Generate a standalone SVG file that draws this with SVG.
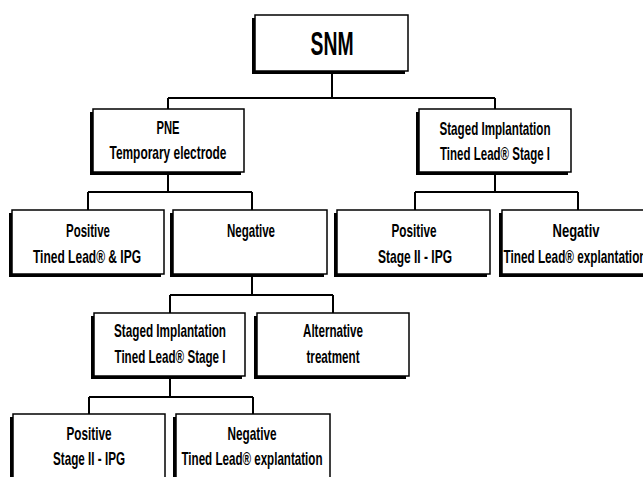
<svg xmlns="http://www.w3.org/2000/svg" width="643" height="477" viewBox="0 0 643 477">
<style>
.sh{fill:#000}
.bx{fill:#fff;stroke:#000;stroke-width:1.5}
.t{font-family:"Liberation Sans Narrow","Liberation Sans",Arial,sans-serif;font-weight:bold;font-size:19px;text-anchor:middle;fill:#000}
.big{font-size:34px}
.c{fill:none;stroke:#000;stroke-width:2}
</style>
<rect width="643" height="477" fill="#fff"/>
<g id="connectors">
<path class="c" d="M332 71V98M168 98H495M168 98V109M495 98V109"/>
<path class="c" d="M168 172V192M88 192H252M88 192V210M252 192V210"/>
<path class="c" d="M495 172V192M415 192H578M415 192V210M578 192V210"/>
<path class="c" d="M252 274V295M170 295H333M170 295V313M333 295V313"/>
<path class="c" d="M170 376V397M89 397H253M89 397V414M253 397V414"/>
</g>
<g id="snm">
<rect class="sh" x="252" y="18" width="153" height="56"/>
<rect class="bx" x="255" y="15" width="153" height="56" stroke-width="2"/>
<text class="t big" x="332" y="55" textLength="43" lengthAdjust="spacingAndGlyphs">SNM</text>
</g>
<g id="pne">
<rect class="sh" x="90" y="112" width="151" height="63"/>
<rect class="bx" x="93" y="109" width="151" height="63"/>
<text class="t" x="168" y="134" textLength="23" lengthAdjust="spacingAndGlyphs">PNE</text>
<text class="t" x="168" y="159" textLength="117" lengthAdjust="spacingAndGlyphs">Temporary electrode</text>
</g>
<g id="staged-right">
<rect class="sh" x="416" y="112" width="152" height="63"/>
<rect class="bx" x="419" y="109" width="152" height="63"/>
<text class="t" x="495" y="135" textLength="111" lengthAdjust="spacingAndGlyphs">Staged Implantation</text>
<text class="t" x="495" y="160" textLength="110" lengthAdjust="spacingAndGlyphs">Tined Lead® Stage I</text>
</g>
<g id="positive-1">
<rect class="sh" x="9" y="213" width="152" height="64"/>
<rect class="bx" x="12" y="210" width="152" height="64"/>
<text class="t" x="88" y="237" textLength="44" lengthAdjust="spacingAndGlyphs">Positive</text>
<text class="t" x="87" y="263" textLength="108" lengthAdjust="spacingAndGlyphs">Tined Lead® &amp; IPG</text>
</g>
<g id="negative-1">
<rect class="sh" x="170" y="213" width="154" height="64"/>
<rect class="bx" x="173" y="210" width="154" height="64"/>
<text class="t" x="251" y="237" textLength="48" lengthAdjust="spacingAndGlyphs">Negative</text>
</g>
<g id="positive-2">
<rect class="sh" x="334" y="213" width="153" height="64"/>
<rect class="bx" x="337" y="210" width="153" height="64"/>
<text class="t" x="414" y="237" textLength="45" lengthAdjust="spacingAndGlyphs">Positive</text>
<text class="t" x="415" y="263" textLength="74" lengthAdjust="spacingAndGlyphs">Stage II - IPG</text>
</g>
<g id="negativ-2">
<rect class="sh" x="499" y="213" width="152" height="64"/>
<rect class="bx" x="502" y="210" width="152" height="64"/>
<text class="t" x="576" y="237" textLength="47" lengthAdjust="spacingAndGlyphs">Negativ</text>
<text class="t" x="575" y="263" textLength="143" lengthAdjust="spacingAndGlyphs">Tined Lead® explantation</text>
</g>
<g id="staged-left">
<rect class="sh" x="91" y="316" width="151" height="63"/>
<rect class="bx" x="94" y="313" width="151" height="63"/>
<text class="t" x="170" y="337" textLength="112" lengthAdjust="spacingAndGlyphs">Staged Implantation</text>
<text class="t" x="170" y="363" textLength="111" lengthAdjust="spacingAndGlyphs">Tined Lead® Stage I</text>
</g>
<g id="alternative">
<rect class="sh" x="254" y="316" width="152" height="63"/>
<rect class="bx" x="257" y="313" width="152" height="63"/>
<text class="t" x="333" y="337" textLength="60" lengthAdjust="spacingAndGlyphs">Alternative</text>
<text class="t" x="333" y="363" textLength="53" lengthAdjust="spacingAndGlyphs">treatment</text>
</g>
<g id="positive-3">
<rect class="sh" x="10" y="417" width="152" height="76"/>
<rect class="bx" x="13" y="414" width="152" height="76"/>
<text class="t" x="89" y="440" textLength="45" lengthAdjust="spacingAndGlyphs">Positive</text>
<text class="t" x="89" y="465" textLength="72" lengthAdjust="spacingAndGlyphs">Stage II - IPG</text>
</g>
<g id="negative-3">
<rect class="sh" x="173" y="417" width="154" height="76"/>
<rect class="bx" x="176" y="414" width="154" height="76"/>
<text class="t" x="252" y="440" textLength="49" lengthAdjust="spacingAndGlyphs">Negative</text>
<text class="t" x="252" y="465" textLength="141" lengthAdjust="spacingAndGlyphs">Tined Lead® explantation</text>
</g>
</svg>
